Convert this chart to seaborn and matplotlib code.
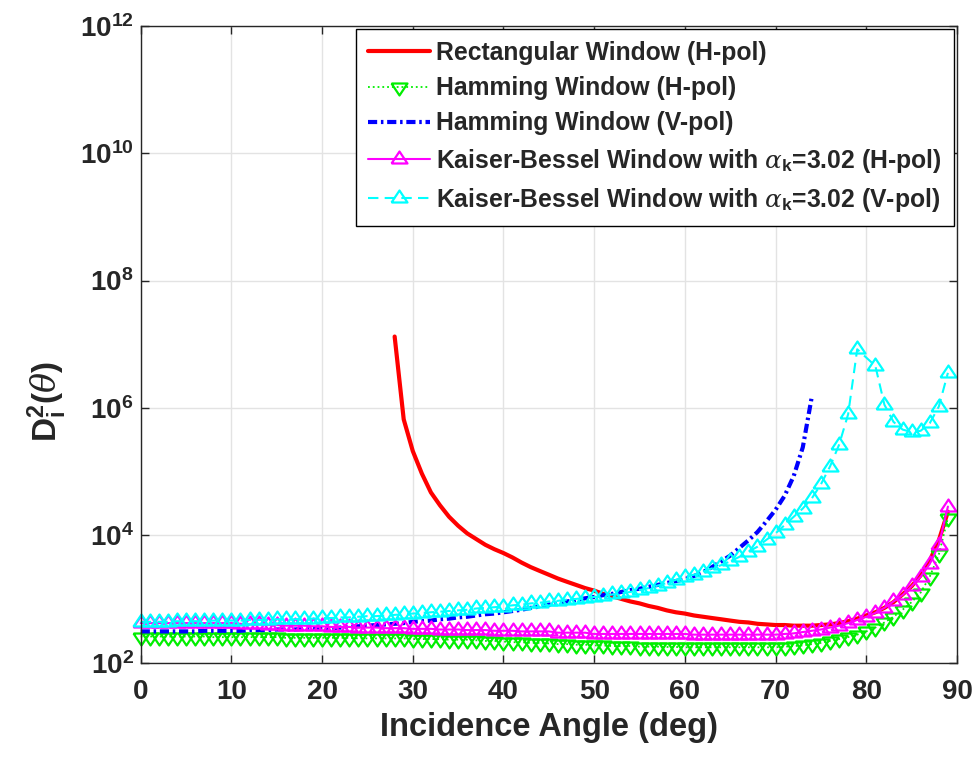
import seaborn as sns
import matplotlib.pyplot as plt
from matplotlib.ticker import LogFormatterMathtext, MultipleLocator, NullLocator

# incidence angles (deg) for each curve
theta_rect = list(range(28, 90))
theta_ham_h = list(range(0, 90))
theta_ham_v = list(range(0, 75))
theta_kb_h = list(range(0, 90))
theta_kb_v = list(range(0, 80)) + list(range(81, 90))

# y axis ticks (every two decades)
y_ticks = [1e2, 1e4, 1e6, 1e8, 1e10, 1e12]

# D_i^2(theta)
rect_h = [1.32e7, 6.6e5, 2.1e5, 9.3e4, 4.7e4, 2.95e4, 1.95e4, 1.41e4, 1.07e4, 8700,
          7080, 6030, 5250, 4470, 3720, 3160, 2750, 2400, 2090, 1860,
          1660, 1480, 1350, 1200, 1100, 1000, 912, 851, 776, 724,
          661, 617, 589, 550, 525, 501, 479, 457, 437, 427,
          407, 398, 389, 389, 380, 380, 380, 389, 398, 417,
          447, 490, 550, 617, 724, 891, 1175, 1585, 2344, 3981,
          8318, 23440]

ham_h = [257, 257, 257, 257, 257, 257, 257, 257, 251, 251,
         251, 251, 251, 251, 251, 251, 245, 245, 245, 245,
         245, 245, 245, 245, 240, 240, 240, 240, 240, 240,
         234, 234, 234, 234, 229, 229, 229, 224, 219, 219,
         214, 209, 209, 204, 204, 200, 195, 195, 191, 191,
         186, 186, 182, 182, 182, 178, 178, 178, 176, 176,
         174, 174, 174, 174, 174, 174, 174, 174, 174, 174,
         174, 178, 182, 186, 195, 204, 219, 234, 251, 275,
         309, 355, 427, 525, 676, 891, 1259, 2239, 5012, 18620]

ham_v = [309, 309, 309, 309, 309, 309, 309, 316, 316, 316,
         316, 316, 324, 324, 324, 331, 331, 331, 339, 339,
         347, 347, 355, 363, 372, 380, 389, 398, 407, 417,
         437, 447, 457, 479, 490, 513, 525, 550, 575, 589,
         617, 646, 676, 724, 759, 813, 851, 912, 955, 1023,
         1072, 1148, 1202, 1288, 1380, 1445, 1549, 1660, 1778, 1905,
         2042, 2291, 2630, 3162, 3890, 4786, 6310, 8318, 11220, 16600,
         25120, 41690, 85110, 2.4e5, 1.51e6]

kb_h = [417, 417, 417, 417, 417, 417, 417, 417, 417, 417,
        417, 407, 398, 398, 389, 389, 380, 380, 380, 372,
        372, 363, 363, 363, 355, 355, 355, 347, 347, 347,
        339, 339, 339, 331, 331, 331, 324, 324, 324, 316,
        316, 316, 309, 309, 309, 309, 295, 295, 295, 295,
        282, 282, 282, 282, 282, 282, 282, 282, 282, 282,
        282, 275, 275, 275, 275, 275, 275, 275, 275, 275,
        275, 282, 288, 302, 316, 331, 355, 380, 417, 468,
        525, 603, 724, 912, 1148, 1585, 2239, 3548, 7079, 28180]

kb_v = [437, 437, 437, 437, 447, 447, 447, 447, 457, 457,
        457, 457, 468, 468, 468, 479, 479, 479, 490, 490,
        501, 501, 513, 513, 525, 537, 537, 550, 562, 575,
        589, 603, 617, 631, 646, 661, 676, 708, 724, 741,
        759, 794, 813, 851, 871, 912, 933, 977, 1000, 1047,
        1072, 1122, 1175, 1230, 1288, 1380, 1479, 1622, 1778, 1995,
        2239, 2399, 2692, 3020, 3388, 3890, 4571, 5495, 6607, 8511,
        10720, 14450, 19500, 26300, 38020, 63100, 1.2e5, 2.63e5, 7.94e5, 8.32e6,
        4.57e6, 1.12e6, 6.03e5, 4.57e5, 4.17e5, 4.37e5, 5.75e5, 1.05e6, 3.55e6]

labels = ['Rectangular Window (H-pol)',
          'Hamming Window (H-pol)',
          'Hamming Window (V-pol)',
          r'Kaiser-Bessel Window with $\alpha_{\mathbf{k}}$=3.02 (H-pol)',
          r'Kaiser-Bessel Window with $\alpha_{\mathbf{k}}$=3.02 (V-pol)']

sns.set_style('ticks')
plt.rcParams['font.family'] = ['Liberation Sans', 'DejaVu Sans']
plt.rcParams['font.weight'] = 'bold'
plt.rcParams['mathtext.fontset'] = 'custom'
plt.rcParams['mathtext.rm'] = 'Liberation Sans:bold'
plt.rcParams['mathtext.bf'] = 'Liberation Sans:bold'
plt.rcParams['mathtext.it'] = 'DejaVu Serif:italic:normal'

# MATLAB-like triangles: wider than tall, centred on the centroid
tri_up = [(-1, -0.5), (1, -0.5), (0, 1.0), (-1, -0.5)]
tri_dn = [(-1, 0.5), (1, 0.5), (0, -1.0), (-1, 0.5)]

fig = plt.figure(figsize=(9.77, 7.59), dpi=100)
ax = fig.add_axes([0.144, 0.127, 0.8355, 0.839])

common = dict(ax=ax, estimator=None, sort=False, clip_on=False)
sns.lineplot(x=theta_rect, y=rect_h, color='#ff0000', linewidth=3, linestyle='-',
             label=labels[0], **common)
sns.lineplot(x=theta_ham_h, y=ham_h, color='#00ee00', linewidth=1.3, linestyle=':',
             marker=tri_dn, markersize=11.5, markerfacecolor='none', markeredgecolor='#00ee00',
             markeredgewidth=1.6, label=labels[1], **common)
sns.lineplot(x=theta_ham_v, y=ham_v, color='#0000ff', linewidth=3,
             linestyle=(0, (2.2, 0.9, 0.6, 0.9)), label=labels[2], **common)
sns.lineplot(x=theta_kb_h, y=kb_h, color='#ff00ff', linewidth=1.5, linestyle='-',
             marker=tri_up, markersize=11.5, markerfacecolor='none', markeredgecolor='#ff00ff',
             markeredgewidth=1.6, label=labels[3], **common)
sns.lineplot(x=theta_kb_v, y=kb_v, color='#00ffff', linewidth=1.5, linestyle=(0, (5, 3)),
             marker=tri_up, markersize=11.5, markerfacecolor='none', markeredgecolor='#00ffff',
             markeredgewidth=1.6, label=labels[4], **common)

ax.set_yscale('log')
ax.set_xlim(0, 90)
ax.set_ylim(1e2, 1e12)
ax.xaxis.set_major_locator(MultipleLocator(10))
ax.set_yticks(y_ticks)
ax.yaxis.set_major_formatter(LogFormatterMathtext(base=10))
ax.yaxis.set_minor_locator(NullLocator())

ax.grid(True, color='#e3e3e3', linewidth=1)
ax.set_axisbelow(True)
for sp in ax.spines.values():
    sp.set_visible(True)
    sp.set_color('#262626')
    sp.set_linewidth(1)
ax.tick_params(direction='in', length=6, width=1, top=True, right=True,
               labelsize=20, colors='#262626')
ax.tick_params(axis='x', pad=12)
ax.tick_params(axis='y', pad=5)

ax.set_xlabel('Incidence Angle (deg)', fontsize=23.5, fontweight='bold', color='#262626')
ax.set_ylabel(r'$\mathbf{D}_{\mathbf{i}}^{\mathbf{2}}(\theta)$', fontsize=24, color='#262626')
ax.xaxis.set_label_coords(0.5, -0.1025)
ax.xaxis.label.set_va('center')
ax.yaxis.set_label_coords(-0.115, 0.41)
ax.yaxis.label.set_va('center')

leg = ax.legend(loc='upper right', fontsize=17.8, frameon=True, fancybox=False,
                edgecolor='black', framealpha=1, borderaxespad=0.12, handlelength=2.5,
                handletextpad=0.25, labelspacing=0.45, borderpad=0.5)
leg.get_frame().set_linewidth(1)

fig.savefig('out.png', dpi=100)
